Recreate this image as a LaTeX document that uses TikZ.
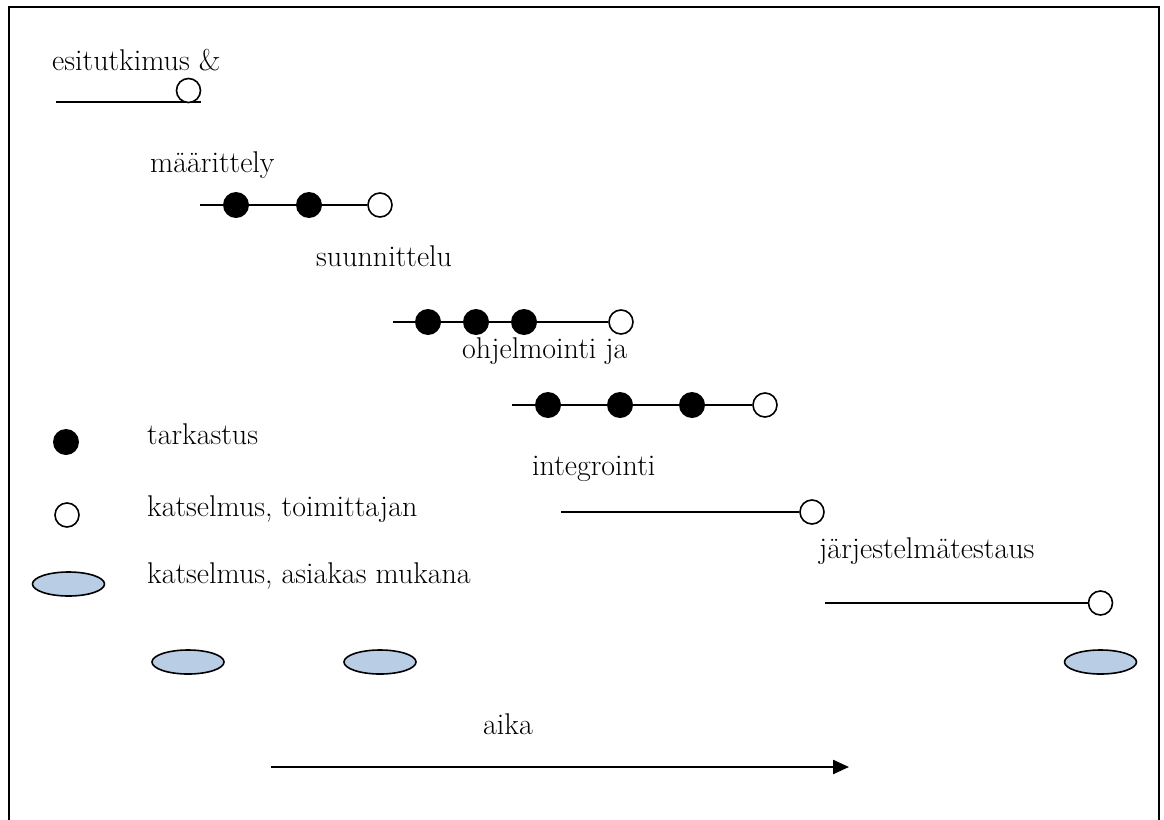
\documentclass[tikz,border=0pt]{standalone}
\usetikzlibrary{arrows.meta,shapes.geometric}
\definecolor{ellblue}{HTML}{B9CDE5}
\begin{document}
\begin{tikzpicture}[x=1pt,y=-1pt,
  lbl/.style={anchor=base west,inner sep=0pt,font=\fontsize{30}{36}\selectfont},
  rev/.style={circle,draw=black,line width=1.6pt,fill=white,minimum size=24pt,inner sep=0pt},
  insp/.style={circle,fill=black,minimum size=26pt,inner sep=0pt},
  cust/.style={ellipse,draw=black,line width=1.6pt,fill=ellblue,minimum width=72pt,minimum height=24pt,inner sep=0pt},
  phase/.style={line width=2pt}]
\useasboundingbox (0,0) rectangle (1164,819);
\draw[line width=2pt] (9,830) -- (9,7) -- (1159,7) -- (1159,830);
% row 1
\node[lbl] (t1) at (52,70) {esitutkimus \&};
\coordinate (s1) at (56,102);
\coordinate (e1) at (201,102);
\draw[phase] (s1) -- (e1);
\node[rev] (r1) at (188.5,90.5) {};
% row 2
\node[lbl] (t2) at (150,172) {määrittely};
\coordinate (s2) at (200,205);
\node[rev] (r2) at (380,205) {};
\draw[phase] (s2) -- (r2);
\node[insp] (i21) at (236,205) {};
\node[insp] (i22) at (309,205) {};
% row 3
\node[lbl] (t3) at (316,266) {suunnittelu};
\coordinate (s3) at (393,322);
\node[rev] (r3) at (621,322) {};
\draw[phase] (s3) -- (r3);
\node[insp] (i31) at (428,322) {};
\node[insp] (i32) at (476,322) {};
\node[insp] (i33) at (524,322) {};
% row 4
\node[lbl] (t4) at (462,358) {ohjelmointi ja};
\coordinate (s4) at (512,405);
\node[rev] (r4) at (765,405) {};
\draw[phase] (s4) -- (r4);
\node[insp] (i41) at (548,405) {};
\node[insp] (i42) at (620,405) {};
\node[insp] (i43) at (692,405) {};
% row 5
\node[lbl] (t5) at (532,475) {integrointi};
\coordinate (s5) at (561,512);
\node[rev] (r5) at (812,512) {};
\draw[phase] (s5) -- (r5);
% row 6
\node[lbl] (t6) at (819,558) {järjestelmätestaus};
\coordinate (s6) at (825,603);
\node[rev] (r6) at (1100.5,603) {};
\draw[phase] (s6) -- (r6);
% legend
\node[insp] (li) at (66,442) {};
\node[lbl] (lt1) at (147,444) {tarkastus};
\node[rev] (lr) at (67,515) {};
\node[lbl] (lt2) at (147,516) {katselmus, toimittajan};
\node[cust] (lc) at (68.5,584) {};
\node[lbl] (lt3) at (147,583) {katselmus, asiakas mukana};
% customer reviews
\node[cust] (c1) at (188,662) {};
\node[cust] (c2) at (380,662) {};
\node[cust] (c3) at (1100.5,662) {};
% time axis
\node[lbl] (ta) at (483,734) {aika};
\coordinate (a1) at (271,767);
\coordinate (a2) at (849,767);
\draw[line width=2.4pt,-{Triangle[length=16pt,width=14pt]}] (a1) -- (a2);
\end{tikzpicture}
\end{document}
